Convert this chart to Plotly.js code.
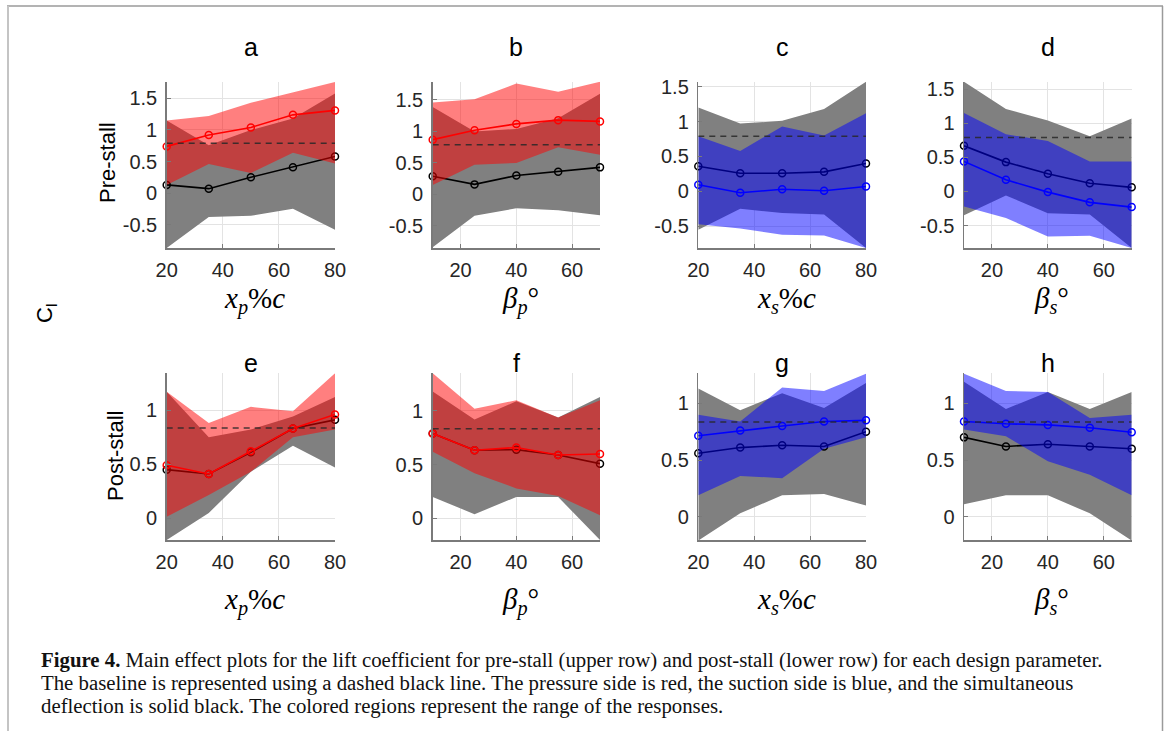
<!DOCTYPE html>
<html><head><meta charset="utf-8">
<script src="https://cdn.plot.ly/plotly-3.0.1.min.js"></script>
<style>html,body{margin:0;padding:0;background:#fff}#chart{width:1167px;height:731px}</style>
</head><body><div id="chart"></div>
<script>
// ---------- DATA ----------
const xPos = [20, 35, 50, 65, 80];          // x_p %c and x_s %c
const betaVals = [10, 25, 40, 55, 70];      // beta_p and beta_s (deg)
const preBaseline = 0.79;
const postBaseline = 0.835;

// a: pre-stall, x_p
const aRed = [0.74, 0.92, 1.04, 1.24, 1.31];
const aBlack = [0.13, 0.07, 0.25, 0.41, 0.58];
const aColHi = [1.15, 1.22, 1.43, 1.60, 1.76];
const aColLo = [0.13, 0.46, 0.32, 0.64, 0.47];
const aGrayHi = [1.15, 0.76, 1.00, 1.18, 1.58];
const aGrayLo = [-0.87, -0.38, -0.36, -0.25, -0.58];
// b: pre-stall, beta_p
const bRed = [0.87, 1.02, 1.12, 1.18, 1.16];
const bBlack = [0.29, 0.16, 0.30, 0.36, 0.43];
const bColHi = [1.46, 1.51, 1.76, 1.63, 1.79];
const bColLo = [0.15, 0.47, 0.50, 0.75, 0.63];
const bGrayHi = [1.39, 1.00, 1.04, 1.21, 1.60];
const bGrayLo = [-0.84, -0.34, -0.22, -0.25, -0.33];
// c: pre-stall, x_s
const cBlue = [0.095, -0.02, 0.03, 0.01, 0.07];
const cBlack = [0.36, 0.26, 0.26, 0.28, 0.40];
const cColHi = [0.79, 0.58, 0.93, 0.80, 1.12];
const cColLo = [-0.47, -0.53, -0.62, -0.63, -0.81];
const cGrayHi = [1.20, 0.97, 1.01, 1.18, 1.57];
const cGrayLo = [-0.55, -0.25, -0.31, -0.33, -0.81];
// d: pre-stall, beta_s
const dBlue = [0.44, 0.17, -0.01, -0.16, -0.23];
const dBlack = [0.67, 0.43, 0.26, 0.12, 0.06];
const dColHi = [1.15, 0.84, 0.74, 0.44, 0.44];
const dColLo = [-0.22, -0.39, -0.66, -0.65, -0.83];
const dGrayHi = [1.61, 1.21, 1.04, 0.81, 1.07];
const dGrayLo = [-0.35, -0.06, -0.32, -0.34, -0.83];
// e: post-stall, x_p
const eRed = [0.49, 0.41, 0.62, 0.83, 0.96];
const eBlack = [0.45, 0.41, 0.61, 0.83, 0.91];
const eColHi = [1.17, 0.88, 1.03, 0.99, 1.34];
const eColLo = [0.015, 0.215, 0.43, 0.75, 0.82];
const eGrayHi = [1.17, 0.75, 0.82, 0.94, 1.12];
const eGrayLo = [-0.20, 0.05, 0.43, 0.67, 0.47];
// f: post-stall, beta_p
const fRed = [0.79, 0.635, 0.66, 0.59, 0.60];
const fBlack = [0.79, 0.635, 0.64, 0.59, 0.51];
const fColHi = [1.35, 1.02, 1.10, 0.94, 1.10];
const fColLo = [0.62, 0.42, 0.28, 0.21, 0.03];
const fGrayHi = [1.18, 0.92, 1.09, 0.94, 1.13];
const fGrayLo = [0.20, 0.04, 0.20, 0.20, -0.20];
// g: post-stall, x_s
const gBlue = [0.715, 0.76, 0.80, 0.84, 0.85];
const gBlack = [0.56, 0.61, 0.63, 0.62, 0.75];
const gColHi = [0.90, 0.84, 1.14, 1.11, 1.26];
const gColLo = [0.19, 0.36, 0.34, 0.60, 0.70];
const gGrayHi = [1.13, 0.94, 1.09, 0.96, 1.18];
const gGrayLo = [-0.21, 0.03, 0.19, 0.20, 0.10];
// h: post-stall, beta_s
const hBlue = [0.84, 0.82, 0.81, 0.785, 0.745];
const hBlack = [0.70, 0.62, 0.64, 0.62, 0.60];
const hColHi = [1.26, 1.11, 1.10, 0.87, 0.90];
const hColLo = [0.77, 0.71, 0.49, 0.37, 0.19];
const hGrayHi = [1.19, 0.95, 1.10, 0.95, 1.10];
const hGrayLo = [0.11, 0.19, 0.19, 0.03, -0.21];

// tick labels
const xTickPos = [20, 40, 60, 80];
const xTickText = ['20', '40', '60', '80'];
const betaTickPos = [20, 40, 60];
const betaTickText = ['20', '40', '60'];
const preYTicks = [-0.5, 0, 0.5, 1, 1.5];
const preYText = ['-0.5', '0', '0.5', '1', '1.5'];
const postYTicks = [0, 0.5, 1];
const postYText = ['0', '0.5', '1'];

const panelLetters = ['a', 'b', 'c', 'd', 'e', 'f', 'g', 'h'];
const xLabels = ['<i>x</i><sub><i>p</i></sub>%<i>c</i>', '<i>β</i><sub><i>p</i></sub>°',
                 '<i>x</i><sub><i>s</i></sub>%<i>c</i>', '<i>β</i><sub><i>s</i></sub>°'];
const rowLabels = ['Pre-stall', 'Post-stall'];
const captionLines = [
  '<b>Figure 4.</b> Main effect plots for the lift coefficient for pre-stall (upper row) and post-stall (lower row) for each design parameter.',
  'The baseline is represented using a dashed black line. The pressure side is red, the suction side is blue, and the simultaneous',
  'deflection is solid black. The colored regions represent the range of the responses.'
];

// ---------- BUILD ----------
const W = 1167, H = 731;
const px = v => v / W;
const py = v => 1 - v / H;

const colsX = [[166.7, 335], [432.7, 600], [698.3, 866], [964, 1131.7]];
const rowsY = [[81.7, 248], [373.3, 540]];
const yRanges = [[-0.87, 1.765], [-0.85, 1.79], [-0.81, 1.57], [-0.83, 1.61],
                 [-0.2, 1.34], [-0.2, 1.35], [-0.205, 1.265], [-0.205, 1.265]];

const panels = [
  {x: xPos, line: aRed, black: aBlack, hi: aColHi, lo: aColLo, ghi: aGrayHi, glo: aGrayLo, col: 'red'},
  {x: betaVals, line: bRed, black: bBlack, hi: bColHi, lo: bColLo, ghi: bGrayHi, glo: bGrayLo, col: 'red'},
  {x: xPos, line: cBlue, black: cBlack, hi: cColHi, lo: cColLo, ghi: cGrayHi, glo: cGrayLo, col: 'blue'},
  {x: betaVals, line: dBlue, black: dBlack, hi: dColHi, lo: dColLo, ghi: dGrayHi, glo: dGrayLo, col: 'blue'},
  {x: xPos, line: eRed, black: eBlack, hi: eColHi, lo: eColLo, ghi: eGrayHi, glo: eGrayLo, col: 'red'},
  {x: betaVals, line: fRed, black: fBlack, hi: fColHi, lo: fColLo, ghi: fGrayHi, glo: fGrayLo, col: 'red'},
  {x: xPos, line: gBlue, black: gBlack, hi: gColHi, lo: gColLo, ghi: gGrayHi, glo: gGrayLo, col: 'blue'},
  {x: betaVals, line: hBlue, black: hBlack, hi: hColHi, lo: hColLo, ghi: hGrayHi, glo: hGrayLo, col: 'blue'}
];

const colors = {
  red: {fill: 'rgba(255,0,0,0.5)', line: '#ff0000'},
  blue: {fill: 'rgba(0,0,255,0.5)', line: '#0000ff'}
};

const traces = [];
const layout = {
  width: W, height: H,
  margin: {l: 0, r: 0, t: 0, b: 0},
  paper_bgcolor: '#ffffff', plot_bgcolor: '#ffffff',
  showlegend: false,
  annotations: [], shapes: []
};

const tickFont = {family: 'Liberation Sans, Arial, sans-serif', size: 20, color: '#262626'};

panels.forEach((p, i) => {
  const n = i + 1;
  const xa = 'x' + (n === 1 ? '' : n), ya = 'y' + (n === 1 ? '' : n);
  const xKey = 'xaxis' + (n === 1 ? '' : n), yKey = 'yaxis' + (n === 1 ? '' : n);
  const col = i % 4, row = Math.floor(i / 4);
  const isBeta = (col % 2 === 1);
  const xr = isBeta ? [10, 70] : [20, 80];
  const poly = (hi, lo) => ({x: p.x.concat(p.x.slice().reverse()), y: hi.concat(lo.slice().reverse())});
  const g = poly(p.ghi, p.glo);
  traces.push({type: 'scatter', mode: 'lines', x: g.x, y: g.y, fill: 'toself', fillcolor: 'rgb(128,128,128)',
    line: {width: 0, color: 'rgba(0,0,0,0)'}, xaxis: xa, yaxis: ya, hoverinfo: 'skip'});
  traces.push({type: 'scatter', mode: 'lines+markers', x: p.x, y: p.black, line: {color: '#000', width: 1.6},
    marker: {symbol: 'circle-open', size: 7, color: '#000', line: {width: 1.5}}, xaxis: xa, yaxis: ya, cliponaxis: false});
  const c = poly(p.hi, p.lo);
  traces.push({type: 'scatter', mode: 'lines', x: c.x, y: c.y, fill: 'toself', fillcolor: colors[p.col].fill,
    line: {width: 0, color: 'rgba(0,0,0,0)'}, xaxis: xa, yaxis: ya, hoverinfo: 'skip'});
  traces.push({type: 'scatter', mode: 'lines+markers', x: p.x, y: p.line, line: {color: colors[p.col].line, width: 1.6},
    marker: {symbol: 'circle-open', size: 7, color: colors[p.col].line, line: {width: 1.5}}, xaxis: xa, yaxis: ya, cliponaxis: false});
  const base = row === 0 ? preBaseline : postBaseline;
  traces.push({type: 'scatter', mode: 'lines', x: xr, y: [base, base], line: {color: 'rgba(40,40,40,0.85)', width: 1.5, dash: '6px,5px'},
    xaxis: xa, yaxis: ya, hoverinfo: 'skip'});

  layout[xKey] = {
    domain: [px(colsX[col][0]), px(colsX[col][1])], anchor: ya, range: xr,
    tickmode: 'array', tickvals: isBeta ? betaTickPos : xTickPos, ticktext: isBeta ? betaTickText : xTickText,
    showline: true, linecolor: '#7a7a7a', linewidth: 1.5, mirror: false,
    showgrid: true, gridcolor: '#e3e3e3', gridwidth: 1, zeroline: false,
    ticks: 'inside', ticklen: 4, tickcolor: '#7a7a7a', tickfont: tickFont, ticklabelstandoff: 3, fixedrange: true
  };
  layout[yKey] = {
    domain: [py(rowsY[row][1]), py(rowsY[row][0])], anchor: xa, range: yRanges[i],
    tickmode: 'array', tickvals: row === 0 ? preYTicks : postYTicks, ticktext: row === 0 ? preYText : postYText,
    showline: true, linecolor: '#7a7a7a', linewidth: 1.5, mirror: false,
    showgrid: true, gridcolor: '#e3e3e3', gridwidth: 1, zeroline: false,
    ticks: 'inside', ticklen: 4, tickcolor: '#7a7a7a', tickfont: tickFont, ticklabelstandoff: 4, fixedrange: true
  };

  const cx = (colsX[col][0] + colsX[col][1]) / 2;
  layout.annotations.push({xref: 'paper', yref: 'paper', x: px(cx), y: py(row === 0 ? 47 : 363),
    text: panelLetters[i], showarrow: false, xanchor: 'center', yanchor: 'middle',
    font: {family: 'Liberation Sans, Arial, sans-serif', size: 25, color: '#000'}});
  layout.annotations.push({xref: 'paper', yref: 'paper', x: px(cx + 4), y: py(row === 0 ? 300 : 601),
    text: xLabels[col], showarrow: false, xanchor: 'center', yanchor: 'middle',
    font: {family: 'Liberation Serif, Times New Roman, serif', size: 29, color: '#000'}});
});

layout.annotations.push({xref: 'paper', yref: 'paper', x: px(107), y: py(163), text: rowLabels[0], textangle: -90,
  showarrow: false, xanchor: 'center', yanchor: 'middle', font: {family: 'Liberation Sans, Arial, sans-serif', size: 22, color: '#000'}});
layout.annotations.push({xref: 'paper', yref: 'paper', x: px(115), y: py(456), text: rowLabels[1], textangle: -90,
  showarrow: false, xanchor: 'center', yanchor: 'middle', font: {family: 'Liberation Sans, Arial, sans-serif', size: 22, color: '#000'}});
layout.annotations.push({xref: 'paper', yref: 'paper', x: px(46), y: py(314), text: 'C<sub>l</sub>', textangle: -90,
  showarrow: false, xanchor: 'center', yanchor: 'middle', font: {family: 'Liberation Sans, Arial, sans-serif', size: 22, color: '#000'}});
const captionY = [660, 683, 706];
captionLines.forEach((t, k) => {
  layout.annotations.push({xref: 'paper', yref: 'paper', x: px(39), y: py(captionY[k]), text: t, align: 'left',
    showarrow: false, xanchor: 'left', yanchor: 'middle', font: {family: 'Liberation Serif, Times New Roman, serif', size: 20.8, color: '#111'}});
});

layout.shapes.push({type: 'line', xref: 'paper', yref: 'paper', x0: px(7), x1: px(1163), y0: py(6), y1: py(6), line: {color: '#9a9a9a', width: 1.5}});
layout.shapes.push({type: 'line', xref: 'paper', yref: 'paper', x0: px(8), x1: px(8), y0: py(6), y1: py(731), line: {color: '#c4c4c4', width: 2}});
layout.shapes.push({type: 'line', xref: 'paper', yref: 'paper', x0: px(1162.5), x1: px(1162.5), y0: py(6), y1: py(731), line: {color: '#9a9a9a', width: 1.5}});

Plotly.newPlot('chart', traces, layout, {staticPlot: true, displayModeBar: false});
</script>
</body></html>
